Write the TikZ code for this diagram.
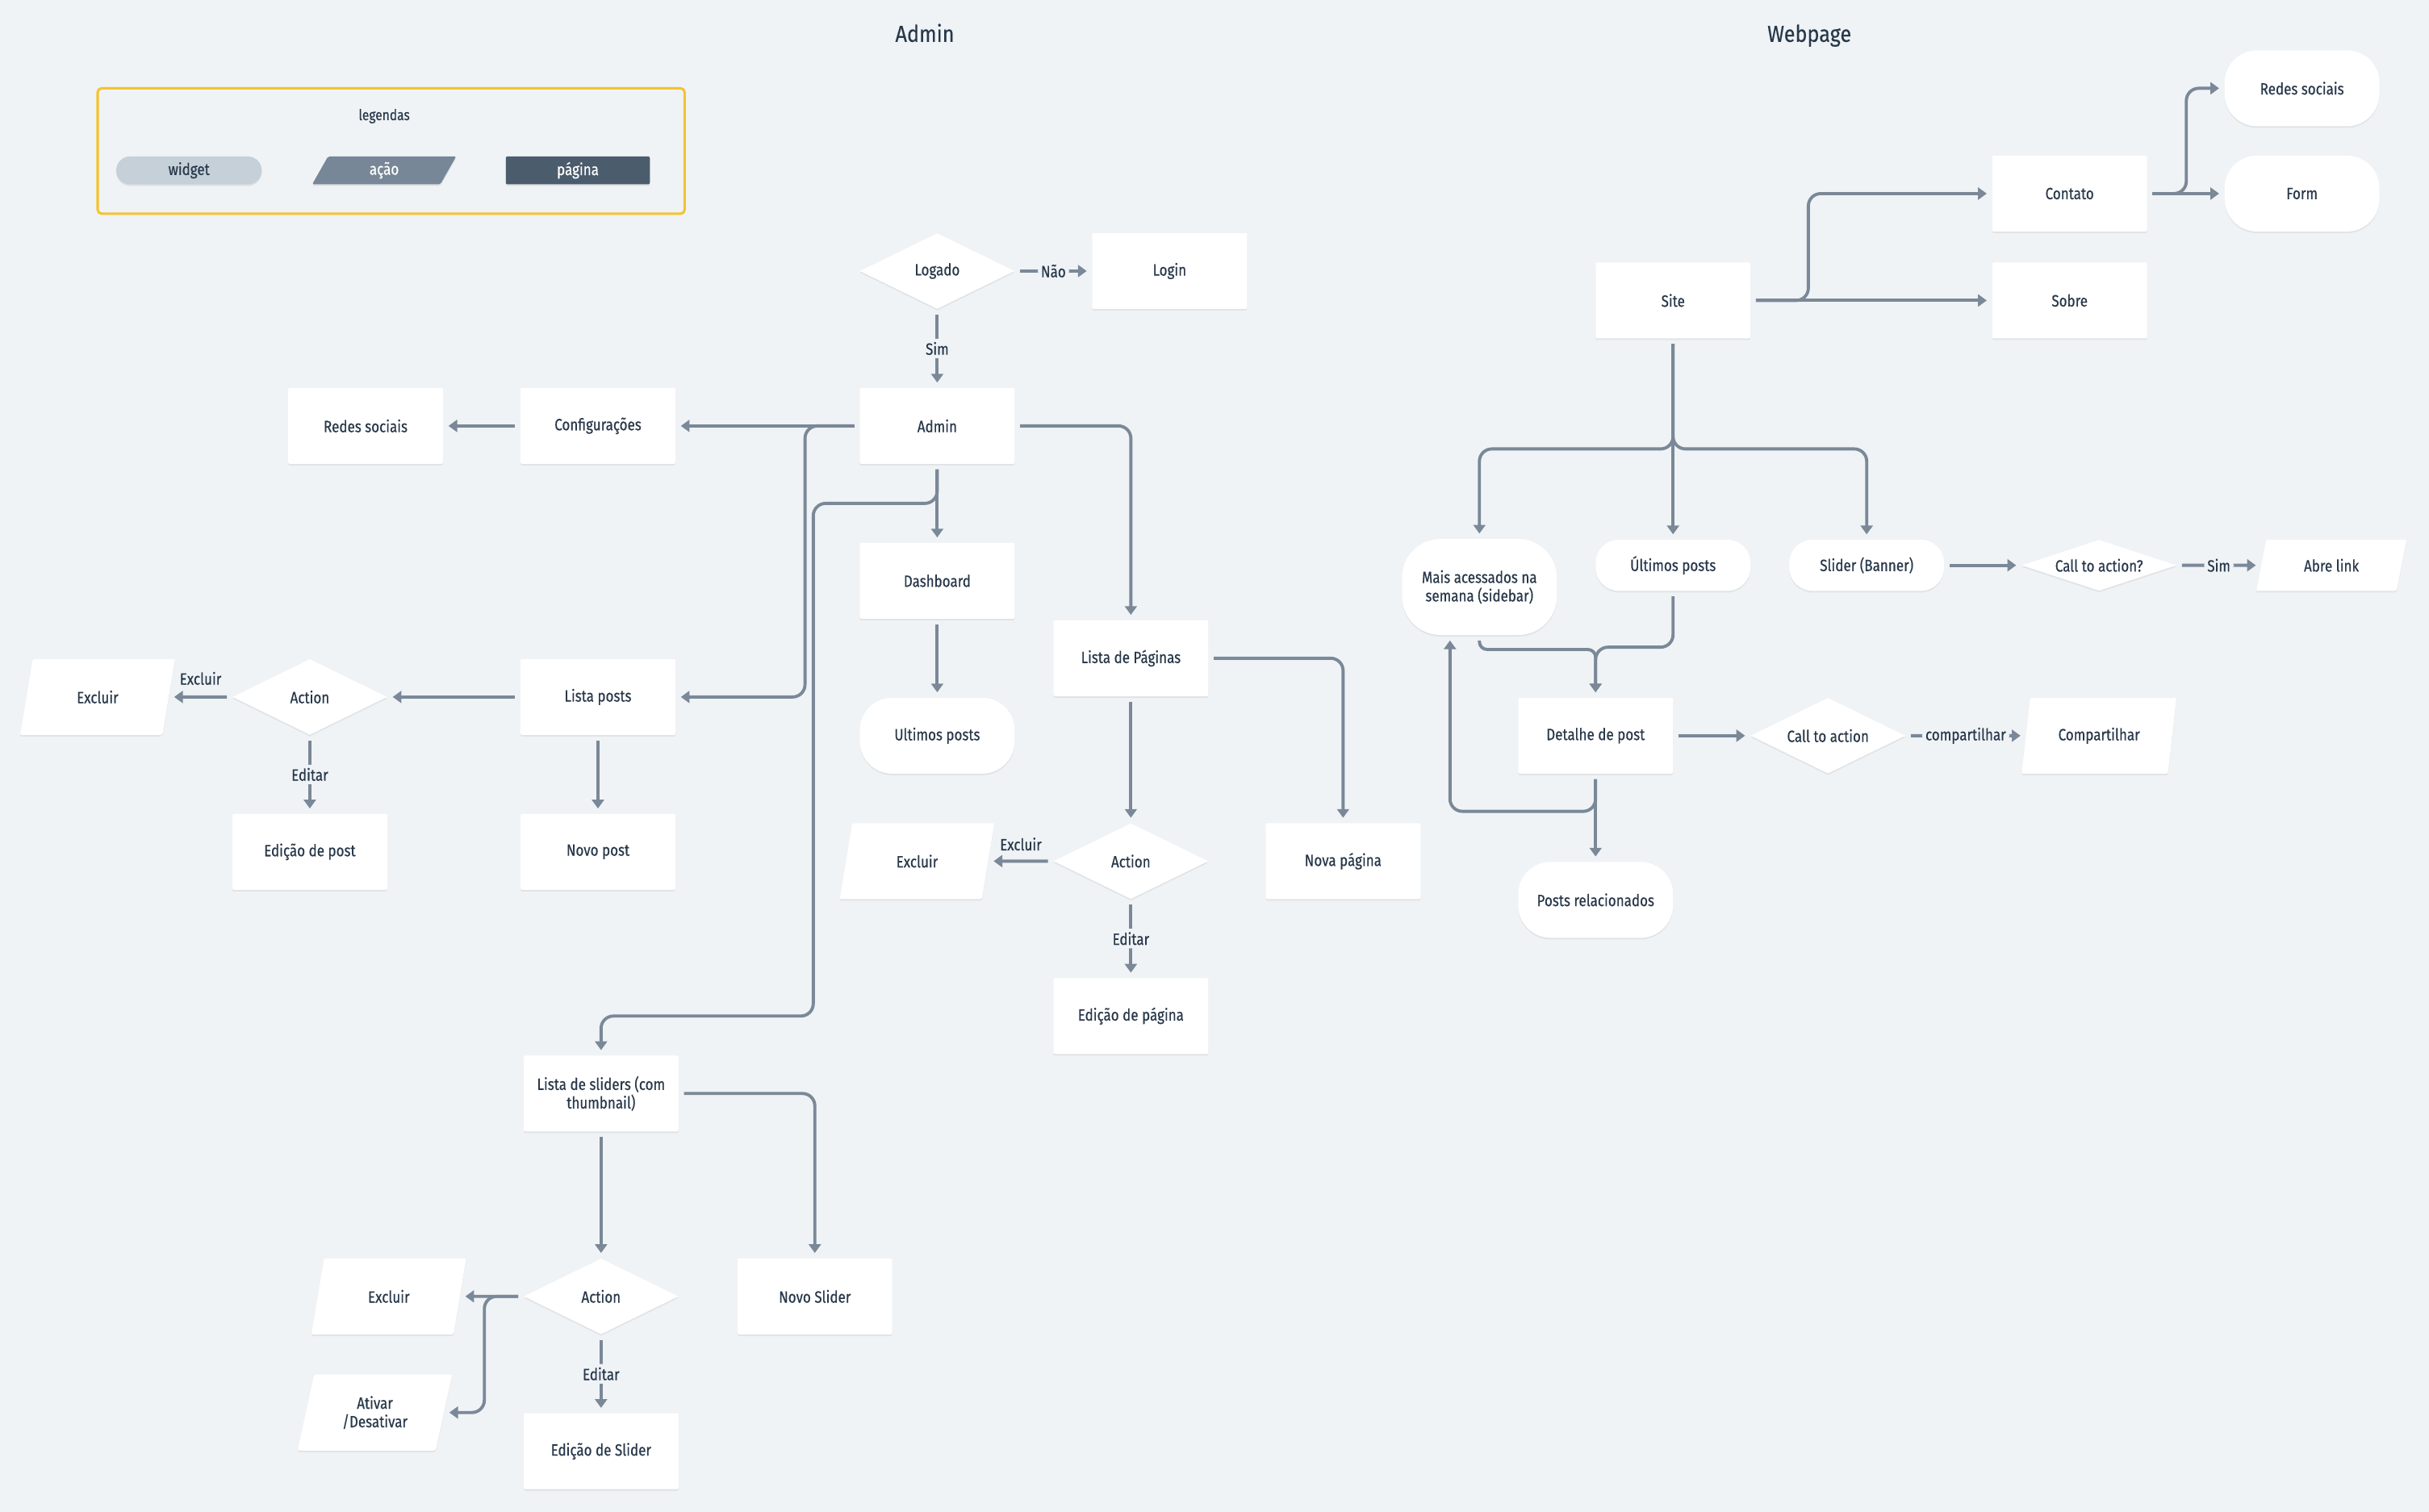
\documentclass[tikz,border=0pt]{standalone}
\usepackage{fontspec}
\setmainfont[FakeStretch=0.84,FakeBold=0.45]{Fira Sans}
\newfontfamily\titlefont[FakeStretch=0.88,FakeBold=0.25]{Fira Sans}
\usetikzlibrary{shapes.geometric,arrows.meta,shadows}
\definecolor{bg}{HTML}{EFF3F6}
\definecolor{lc}{HTML}{7A8897}
\definecolor{tx}{HTML}{28384A}
\definecolor{wfill}{HTML}{C5D0D9}
\definecolor{afill}{HTML}{788797}
\definecolor{pfill}{HTML}{4B5C6C}
\definecolor{legc}{HTML}{F5C330}
\begin{document}
\begin{tikzpicture}[x=0.02cm,y=-0.02cm,
  font=\fontsize{6}{6.8}\selectfont, text=tx,
  base/.style={fill=white, text=tx, inner sep=1pt, align=center,
    drop shadow={shadow xshift=0pt,shadow yshift=-0.6pt,fill=black,opacity=0.06}},
  pg/.style={base, rectangle, rounded corners=0.6pt, minimum width=2cm, minimum height=0.98cm},
  wd/.style={base, rectangle, rounded corners=0.42cm, minimum width=2cm, minimum height=0.98cm},
  dm/.style={base, diamond, aspect=2.5, inner sep=0pt, minimum width=2cm, minimum height=0.98cm},
  ac/.style={base, trapezium, trapezium left angle=76, trapezium right angle=104,
    trapezium stretches=true, minimum width=2cm, minimum height=0.98cm, rounded corners=0.6pt},
  conn/.style={draw=lc, line width=1.15pt, rounded corners=0.16cm,
    -{Triangle[length=3.2pt,width=4.4pt]}, shorten <=1.8pt, shorten >=1.8pt},
  lbl/.style={fill=bg, inner sep=1.2pt, text=tx},
  ttl/.style={font=\titlefont\fontsize{8.5}{10}\selectfont, text=tx, anchor=base},
  legw/.style={fill=wfill, text=tx, rounded corners=0.18cm, minimum width=1.88cm, minimum height=0.36cm, inner sep=0pt,
    drop shadow={shadow xshift=0pt,shadow yshift=-0.6pt,fill=black,opacity=0.08}},
  lega/.style={fill=afill, text=white, trapezium, trapezium left angle=76, trapezium right angle=104,
    trapezium stretches=true, minimum width=1.86cm, minimum height=0.36cm, inner sep=0pt, rounded corners=0.6pt,
    drop shadow={shadow xshift=0pt,shadow yshift=-0.6pt,fill=black,opacity=0.08}},
  legp/.style={fill=pfill, text=white, rounded corners=0.6pt, minimum width=1.86cm, minimum height=0.36cm, inner sep=0pt,
    drop shadow={shadow xshift=0pt,shadow yshift=-0.6pt,fill=black,opacity=0.08}},
]
\path[use as bounding box, fill=bg] (0,0) rectangle (1568,976);

% titles
\node[ttl] (tadmin) at (597,27) {Admin};
\node[ttl] (tweb) at (1168,27) {Webpage};

% legend
\node[draw=legc, line width=0.9pt, rounded corners=1.5pt, minimum width=7.58cm, minimum height=1.62cm] (legbox) at (252.5,97.5) {};
\node[font=\fontsize{5.5}{6.5}\selectfont] (legt) at (248,75) {legendas};
\node[legw] (lw) at (122,110) {widget};
\node[lega] (la) at (248,110) {ação};
\node[legp] (lp) at (373,110) {página};

% admin nodes
\node[dm] (logado) at (605,175) {Logado};
\node[pg] (login) at (755,175) {Login};
\node[pg] (admin) at (605,275) {Admin};
\node[pg] (config) at (386,275) {Configurações};
\node[pg] (redes1) at (236,275) {Redes sociais};
\node[pg] (dash) at (605,375) {Dashboard};
\node[wd] (ult1) at (605,475) {Ultimos posts};
\node[pg] (lpag) at (730,425) {Lista de Páginas};
\node[pg] (lposts) at (386,450) {Lista posts};
\node[dm] (act1) at (200,450) {Action};
\node[ac] (exc1) at (63,450) {Excluir};
\node[pg] (edpost) at (200,550) {Edição de post};
\node[pg] (novopost) at (386,550) {Novo post};
\node[dm] (act2) at (730,556) {Action};
\node[ac] (exc2) at (592,556) {Excluir};
\node[pg] (novapag) at (867,556) {Nova página};
\node[pg] (edpag) at (730,656) {Edição de página};
\node[pg] (sliders) at (388,706) {Lista de sliders (com\\thumbnail)};
\node[dm] (act3) at (388,837) {Action};
\node[pg] (novoslider) at (526,837) {Novo Slider};
\node[ac] (exc3) at (251,837) {Excluir};
\node[ac] (ativar) at (242,912) {Ativar\\/Desativar};
\node[pg] (edslider) at (388,937) {Edição de Slider};

% webpage nodes
\node[pg] (site) at (1080,194) {Site};
\node[pg] (contato) at (1336,125) {Contato};
\node[pg] (sobre) at (1336,194) {Sobre};
\node[wd] (redes2) at (1486,57) {Redes sociais};
\node[wd] (form) at (1486,125) {Form};
\node[wd, minimum height=1.24cm, rounded corners=0.5cm] (mais) at (955,379) {Mais acessados na\\semana (sidebar)};
\node[wd, minimum height=0.66cm, rounded corners=0.3cm] (ult2) at (1080,365) {Últimos posts};
\node[wd, minimum height=0.66cm, rounded corners=0.3cm] (slider) at (1205,365) {Slider (Banner)};
\node[dm, minimum height=0.66cm] (cta1) at (1355,365) {Call to action?};
\node[ac, minimum height=0.66cm, minimum width=1.94cm] (abre) at (1505,365) {Abre link};
\node[pg] (detalhe) at (1030,475) {Detalhe de post};
\node[dm] (cta2) at (1180,475) {Call to action};
\node[ac] (compart) at (1355,475) {Compartilhar};
\node[wd] (postsrel) at (1030,581) {Posts relacionados};

% admin connectors
\draw[conn] (logado.east) -- node[lbl]{Não} (login.west);
\draw[conn] (logado.south) -- node[lbl]{Sim} (admin.north);
\draw[conn] (admin.west) -- (config.east);
\draw[conn] (config.west) -- (redes1.east);
\draw[conn] (admin.west) -- ++(-35,0) |- (lposts.east);
\draw[conn] (admin.south) -- (dash.north);
\draw[conn] (admin.south) |- (525,325) |- (388,656) -- (sliders.north);
\draw[conn] (admin.east) -| (lpag.north);
\draw[conn] (dash.south) -- (ult1.north);
\draw[conn] (lposts.west) -- (act1.east);
\draw[conn] (act1.west) -- node[midway,yshift=0.24cm]{Excluir} (exc1.east);
\draw[conn] (act1.south) -- node[lbl]{Editar} (edpost.north);
\draw[conn] (lposts.south) -- (novopost.north);
\draw[conn] (lpag.south) -- (act2.north);
\draw[conn] (lpag.east) -| (novapag.north);
\draw[conn] (act2.west) -- node[midway,yshift=0.22cm]{Excluir} (exc2.east);
\draw[conn] (act2.south) -- node[lbl]{Editar} (edpag.north);
\draw[conn] (sliders.south) -- (act3.north);
\draw[conn] (sliders.east) -| (novoslider.north);
\draw[conn] (act3.west) -- (exc3.east);
\draw[conn] (act3.west) -- ++(-25,0) |- (ativar.east);
\draw[conn] (act3.south) -- node[lbl]{Editar} (edslider.north);

% webpage connectors
\draw[conn] (site.east) -- (sobre.west);
\draw[conn] (site.east) -- ++(37,0) |- (contato.west);
\draw[conn] (contato.east) -- (form.west);
\draw[conn] (contato.east) -- ++(25,0) |- (redes2.west);
\draw[conn] (site.south) -- (ult2.north);
\draw[conn] (site.south) -- ++(0,71) -| (mais.north);
\draw[conn] (site.south) -- ++(0,71) -| (slider.north);
\draw[conn] (slider.east) -- (cta1.west);
\draw[conn] (cta1.east) -- node[lbl]{Sim} (abre.west);
\draw[conn, rounded corners=0.1cm] (mais.south) -- ++(0,9) -| (detalhe.north);
\draw[conn] (ult2.south) -- ++(0,36) -| (detalhe.north);
\draw[conn] (detalhe.south) -- (postsrel.north);
\draw[conn] (detalhe.south) -- ++(0,24) -| ([xshift=-0.38cm]mais.south);
\draw[conn] (detalhe.east) -- (cta2.west);
\draw[conn] (cta2.east) -- node[lbl]{compartilhar} (compart.west);
\end{tikzpicture}
\end{document}
